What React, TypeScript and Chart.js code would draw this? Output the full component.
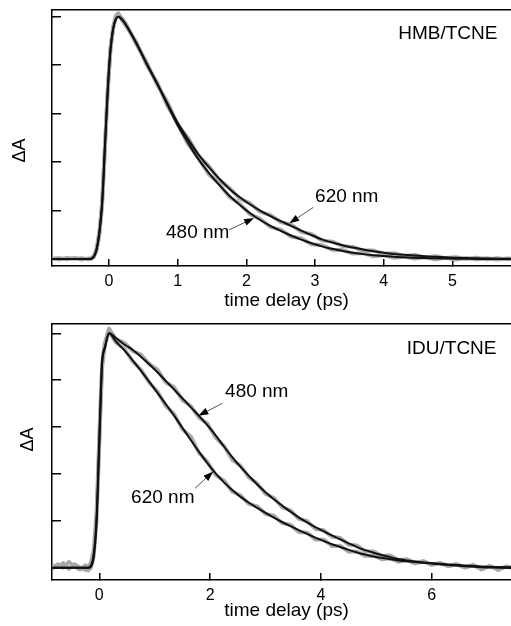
import React, { useEffect, useRef } from "react";
import { Chart, registerables } from "chart.js";

Chart.register(...registerables);

const FONT = '"Liberation Sans", Arial, Helvetica, sans-serif';
const NB = "\u00A0";

// ---------- Top panel: HMB/TCNE ----------
const hmbXTicksStep = 1;
const hmbFitTimes = [-0.83, -0.3, -0.26, -0.22, -0.18, -0.14, -0.1, -0.06, -0.02, 0.02, 0.06, 0.1, 0.135, 0.2,
  0.25, 0.4, 0.55, 0.7, 0.85, 1.0, 1.15, 1.3, 1.45, 1.6, 1.75, 1.9, 2.05, 2.2, 2.35, 2.5, 2.65, 2.8, 2.95, 3.1,
  3.25, 3.4, 3.55, 3.7, 3.85, 4.0, 4.15, 4.3, 4.45, 4.6, 4.75, 4.9, 5.05, 5.2, 5.35, 5.5, 5.65, 5.8, 5.95];
const hmbFit620 = [0, 0, 0.001, 0.01, 0.04, 0.11, 0.23, 0.46, 0.69, 0.86, 0.95, 0.99, 1.0, 0.985,
  0.965, 0.89, 0.805, 0.725, 0.642, 0.562, 0.495, 0.432, 0.38, 0.333,
  0.29, 0.256, 0.226, 0.2, 0.177, 0.156, 0.137, 0.117, 0.098, 0.081,
  0.068, 0.057, 0.047, 0.039, 0.032, 0.026, 0.021, 0.017, 0.014, 0.011,
  0.009, 0.007, 0.005, 0.004, 0.003, 0.002, 0.001, 0.001, 0];
const hmbFit480 = [0, 0, 0.001, 0.01, 0.04, 0.11, 0.23, 0.46, 0.69, 0.86, 0.95, 0.99, 1.0, 0.985,
  0.965, 0.89, 0.805, 0.724, 0.638, 0.552, 0.48, 0.412, 0.357, 0.307,
  0.262, 0.224, 0.19, 0.161, 0.137, 0.116, 0.097, 0.08, 0.065, 0.052,
  0.042, 0.033, 0.026, 0.02, 0.015, 0.012, 0.009, 0.007, 0.005, 0.004,
  0.003, 0.002, 0.001, 0.001, 0, 0, 0, 0, 0];
const hmbDataTimes = [-0.83, -0.72, -0.61, -0.5, -0.4, -0.3, -0.26, -0.22, -0.18, -0.14, -0.1, -0.06, -0.02, 0.02, 0.06, 0.1, 0.135, 0.2,
  0.25, 0.4, 0.55, 0.7, 0.85, 1.0, 1.15, 1.3, 1.45, 1.6, 1.75, 1.9, 2.05, 2.2, 2.35, 2.5, 2.65, 2.8, 2.95, 3.1,
  3.25, 3.4, 3.55, 3.7, 3.85, 4.0, 4.15, 4.3, 4.45, 4.6, 4.75, 4.9, 5.05, 5.2, 5.35, 5.5, 5.65, 5.8, 5.95];
const hmbData620 = [0.004, -0.003, 0.005, 0.0, 0.004, -0.002, 0.003, 0.012, 0.045, 0.115, 0.24, 0.47, 0.7, 0.87, 0.96, 1.005, 1.012, 0.99,
  0.97, 0.885, 0.81, 0.72, 0.648, 0.555, 0.5, 0.428, 0.385, 0.328,
  0.294, 0.25, 0.23, 0.195, 0.181, 0.152, 0.142, 0.112, 0.103, 0.077,
  0.072, 0.053, 0.05, 0.035, 0.035, 0.022, 0.024, 0.013, 0.017, 0.007,
  0.012, 0.004, 0.008, 0.0, 0.006, -0.002, 0.004, -0.002, 0.003];
const hmbData480 = [0.0, 0.004, -0.002, 0.005, -0.003, 0.003, 0.0, 0.008, 0.035, 0.1, 0.22, 0.45, 0.68, 0.855, 0.95, 1.0, 1.015, 0.98,
  0.96, 0.895, 0.8, 0.73, 0.632, 0.558, 0.474, 0.418, 0.35, 0.312,
  0.256, 0.229, 0.185, 0.166, 0.132, 0.121, 0.092, 0.085, 0.06, 0.057,
  0.038, 0.037, 0.022, 0.024, 0.011, 0.016, 0.005, 0.01, 0.001, 0.007,
  -0.002, 0.005, -0.003, 0.004, -0.002, 0.003, -0.003, 0.002, -0.001];

// ---------- Bottom panel: IDU/TCNE ----------
const iduXTicksStep = 2;
const iduFitTimes = [-0.85, -0.2, -0.15, -0.1, -0.05, 0, 0.05, 0.1, 0.175, 0.3, 0.45, 0.6, 0.75, 0.9, 1.05, 1.2, 1.35,
  1.5, 1.65, 1.8, 1.95, 2.1, 2.25, 2.4, 2.55, 2.7, 2.85, 3.0, 3.15, 3.3, 3.45, 3.6, 3.75, 3.9, 4.05, 4.2, 4.35, 4.5,
  4.65, 4.8, 4.95, 5.1, 5.25, 5.4, 5.55, 5.7, 5.85, 6.0, 6.3, 6.6, 6.9, 7.2, 7.6];
const iduFit480 = [0, 0, 0.01, 0.06, 0.21, 0.55, 0.88, 0.94, 1.0, 0.98,
  0.952, 0.93, 0.9, 0.868, 0.834, 0.797, 0.76, 0.723, 0.685, 0.648,
  0.608, 0.565, 0.517, 0.472, 0.43, 0.392, 0.355, 0.322, 0.292, 0.265,
  0.239, 0.215, 0.193, 0.173, 0.155, 0.138, 0.121, 0.104, 0.088, 0.075,
  0.064, 0.054, 0.045, 0.037, 0.031, 0.026, 0.022, 0.018,
  0.011, 0.006, 0.002, 0.0, -0.002];
const iduFit620 = [0, 0, 0.005, 0.045, 0.19, 0.53, 0.87, 0.935, 1.0, 0.965,
  0.928, 0.886, 0.841, 0.794, 0.746, 0.698, 0.649, 0.597, 0.545, 0.494,
  0.446, 0.402, 0.364, 0.331, 0.302, 0.277, 0.255, 0.234, 0.214, 0.195,
  0.177, 0.16, 0.144, 0.128, 0.114, 0.1, 0.088, 0.076, 0.065, 0.056,
  0.048, 0.042, 0.036, 0.031, 0.027, 0.024, 0.021, 0.019,
  0.014, 0.009, 0.005, 0.003, 0.001];
const iduDataTimes = [-0.85, -0.75, -0.65, -0.55, -0.45, -0.35, -0.25, -0.2, -0.15, -0.1, -0.05, 0, 0.05, 0.1, 0.175,
  0.3, 0.45, 0.6, 0.75, 0.9, 1.05, 1.2, 1.35, 1.5, 1.65, 1.8, 1.95, 2.1, 2.25, 2.4, 2.55, 2.7, 2.85, 3.0, 3.15,
  3.3, 3.45, 3.6, 3.75, 3.9, 4.05, 4.2, 4.35, 4.5, 4.65, 4.8, 4.95, 5.1, 5.25, 5.4, 5.55, 5.7, 5.85, 6.0, 6.15,
  6.3, 6.45, 6.6, 6.75, 6.9, 7.05, 7.2, 7.35, 7.5];
const iduData480 = [0.01, 0.005, 0.02, -0.005, 0.015, 0.0, -0.01, 0.005, 0.02, 0.08, 0.24, 0.57, 0.87, 0.96, 1.02,
  0.975, 0.96, 0.925, 0.91, 0.87, 0.845, 0.79, 0.77, 0.715, 0.69,
  0.64, 0.615, 0.555, 0.52, 0.46, 0.435, 0.385, 0.36, 0.315, 0.298,
  0.258, 0.245, 0.208, 0.2, 0.165, 0.16, 0.132, 0.127, 0.098, 0.095,
  0.07, 0.07, 0.05, 0.052, 0.032, 0.036, 0.022, 0.028, 0.014, 0.02,
  0.008, 0.014, 0.002, 0.01, -0.004, 0.006, -0.006, 0.004, -0.004];
const iduData620 = [-0.005, 0.015, 0.0, 0.025, 0.005, -0.008, 0.01, -0.012, 0.0, 0.05, 0.2, 0.52, 0.85, 0.95, 1.01,
  0.96, 0.935, 0.88, 0.845, 0.79, 0.752, 0.69, 0.655, 0.59, 0.56,
  0.49, 0.452, 0.395, 0.372, 0.325, 0.308, 0.272, 0.262, 0.23, 0.222,
  0.19, 0.183, 0.152, 0.15, 0.12, 0.12, 0.092, 0.094, 0.068, 0.07,
  0.05, 0.052, 0.036, 0.04, 0.025, 0.032, 0.018, 0.026, 0.012, 0.02,
  0.006, 0.015, 0.0, 0.012, -0.008, 0.008, -0.01, 0.006, 0.0];

// ---------- Annotations (data coordinates) ----------
type Label = { text: string; x: number; y: number };
type Arrow = { x1: number; y1: number; x2: number; y2: number };

const hmbLabels: Label[] = [
  { text: "HMB/TCNE", x: 4.21, y: 0.929 },
  { text: "620 nm", x: 3.0, y: 0.257 },
  { text: "480 nm", x: 0.83, y: 0.107 },
];
const hmbArrows: Arrow[] = [
  { x1: 2.974, y1: 0.213, x2: 2.624, y2: 0.147 },
  { x1: 1.747, y1: 0.12, x2: 2.112, y2: 0.169 },
];
const iduLabels: Label[] = [
  { text: "IDU/TCNE", x: 5.55, y: 0.936 },
  { text: "480 nm", x: 2.27, y: 0.751 },
  { text: "620 nm", x: 0.574, y: 0.3 },
];
const iduArrows: Arrow[] = [
  { x1: 2.22, y1: 0.701, x2: 1.787, y2: 0.648 },
  { x1: 1.727, y1: 0.339, x2: 2.058, y2: 0.41 },
];

function annotationPlugin(labels: Label[], arrows: Arrow[]) {
  return {
    id: "annot",
    afterDatasetsDraw(chart: any) {
      const { ctx } = chart;
      const xs = chart.scales.x;
      const ys = chart.scales.y;
      ctx.save();
      ctx.font = `19px ${FONT}`;
      ctx.fillStyle = "#000";
      ctx.textAlign = "left";
      ctx.textBaseline = "middle";
      labels.forEach((l) => ctx.fillText(l.text, xs.getPixelForValue(l.x), ys.getPixelForValue(l.y)));
      arrows.forEach((a) => {
        const x1 = xs.getPixelForValue(a.x1);
        const y1 = ys.getPixelForValue(a.y1);
        const x2 = xs.getPixelForValue(a.x2);
        const y2 = ys.getPixelForValue(a.y2);
        const ang = Math.atan2(y2 - y1, x2 - x1);
        const L = 10;
        const W = 3.5;
        const bx = x2 - L * Math.cos(ang);
        const by = y2 - L * Math.sin(ang);
        ctx.strokeStyle = "#555";
        ctx.lineWidth = 1;
        ctx.beginPath();
        ctx.moveTo(x1, y1);
        ctx.lineTo(bx, by);
        ctx.stroke();
        ctx.fillStyle = "#000";
        ctx.beginPath();
        ctx.moveTo(x2, y2);
        ctx.lineTo(bx + W * Math.sin(ang), by - W * Math.cos(ang));
        ctx.lineTo(bx - W * Math.sin(ang), by + W * Math.cos(ang));
        ctx.closePath();
        ctx.fill();
      });
      ctx.restore();
    },
  };
}

type PanelProps = {
  fitTimes: number[];
  fitA: number[];
  fitB: number[];
  dataTimes: number[];
  dataA: number[];
  dataB: number[];
  xMin: number;
  xMax: number;
  yMin: number;
  yMax: number;
  xStep: number;
  padTop: number;
  xAxisHeight: number;
  xTitlePad: number;
  yTitle: string;
  yTitlePad: number;
  labels: Label[];
  arrows: Arrow[];
};

const W_CANVAS = 521;
const H_CANVAS = 313;

function Panel(p: PanelProps) {
  const ref = useRef<HTMLCanvasElement>(null);
  useEffect(() => {
    if (!ref.current) return;
    const pts = (t: number[], v: number[]) => t.map((x, i) => ({ x, y: v[i] }));
    const fitStyle = {
      borderColor: "#111",
      borderWidth: 2,
      pointRadius: 0,
      fill: false,
      cubicInterpolationMode: "monotone" as const,
      xAxisID: "x",
      yAxisID: "y",
    };
    const dataStyle = {
      borderColor: "#a8a8a8",
      borderWidth: 3.8,
      pointRadius: 0,
      fill: false,
      tension: 0,
      borderJoinStyle: "round" as const,
      xAxisID: "x",
      yAxisID: "y",
    };
    const border = { display: true, color: "#000", width: 1.5 };
    const chart = new Chart(ref.current, {
      type: "line",
      data: {
        datasets: [
          { ...fitStyle, label: "fit 620", data: pts(p.fitTimes, p.fitA) },
          { ...fitStyle, label: "fit 480", data: pts(p.fitTimes, p.fitB) },
          { ...dataStyle, label: "data 620", data: pts(p.dataTimes, p.dataA) },
          { ...dataStyle, label: "data 480", data: pts(p.dataTimes, p.dataB) },
        ],
      },
      options: {
        animation: false,
        responsive: false,
        devicePixelRatio: 1,
        events: [],
        layout: { padding: { top: p.padTop, left: 0, right: 0, bottom: 0 } },
        plugins: { legend: { display: false }, tooltip: { enabled: false } },
        scales: {
          x: {
            type: "linear",
            position: "bottom",
            min: p.xMin,
            max: p.xMax,
            ticks: {
              stepSize: p.xStep,
              includeBounds: false,
              padding: 13,
              color: "#000",
              maxRotation: 0,
              autoSkip: false,
              font: { family: FONT, size: 16 },
            },
            grid: { drawOnChartArea: false, drawTicks: true, tickLength: -7, color: "#000", lineWidth: 1.5 },
            border,
            title: {
              display: true,
              text: "time delay (ps)",
              color: "#000",
              font: { family: FONT, size: 19 },
              padding: { top: 0, bottom: p.xTitlePad },
            },
            afterFit: (s: any) => {
              s.height = p.xAxisHeight;
            },
          },
          xTop: {
            type: "linear",
            position: "top",
            min: p.xMin,
            max: p.xMax,
            ticks: { display: false },
            grid: { display: false, drawTicks: false },
            border,
            afterFit: (s: any) => {
              s.height = 0;
            },
          },
          y: {
            type: "linear",
            position: "left",
            min: p.yMin,
            max: p.yMax,
            ticks: { display: false, stepSize: 0.2, includeBounds: false },
            grid: { drawOnChartArea: false, drawTicks: true, tickLength: -9, color: "#000", lineWidth: 1.5 },
            border,
            title: {
              display: true,
              text: p.yTitle,
              color: "#000",
              font: { family: FONT, size: 18 },
              padding: { top: p.yTitlePad, bottom: 0 },
            },
            afterFit: (s: any) => {
              s.width = 52;
            },
          },
        },
      },
      plugins: [annotationPlugin(p.labels, p.arrows)],
    } as any);
    return () => chart.destroy();
  }, []);
  return <canvas ref={ref} width={W_CANVAS} height={H_CANVAS} style={{ display: "block", width: W_CANVAS, height: H_CANVAS }} />;
}

export default function App() {
  return (
    <div
      style={{
        position: "fixed",
        left: 0,
        top: 0,
        width: 511,
        height: 626,
        overflow: "hidden",
        background: "#fff",
      }}
    >
      <Panel
        fitTimes={hmbFitTimes}
        fitA={hmbFit620}
        fitB={hmbFit480}
        dataTimes={hmbDataTimes}
        dataA={hmbData620}
        dataB={hmbData480}
        xMin={-0.83}
        xMax={5.998}
        yMin={-0.029}
        yMax={1.028}
        xStep={hmbXTicksStep}
        padTop={10}
        xAxisHeight={47}
        xTitlePad={1}
        yTitle={"ΔA" + NB.repeat(5)}
        yTitlePad={9}
        labels={hmbLabels}
        arrows={hmbArrows}
      />
      <Panel
        fitTimes={iduFitTimes}
        fitA={iduFit620}
        fitB={iduFit480}
        dataTimes={iduDataTimes}
        dataA={iduData620}
        dataB={iduData480}
        xMin={-0.854}
        xMax={7.612}
        yMin={-0.0525}
        yMax={1.0397}
        xStep={iduXTicksStep}
        padTop={11}
        xAxisHeight={46}
        xTitlePad={4}
        yTitle={NB.repeat(5) + "ΔA"}
        yTitlePad={17}
        labels={iduLabels}
        arrows={iduArrows}
      />
    </div>
  );
}
